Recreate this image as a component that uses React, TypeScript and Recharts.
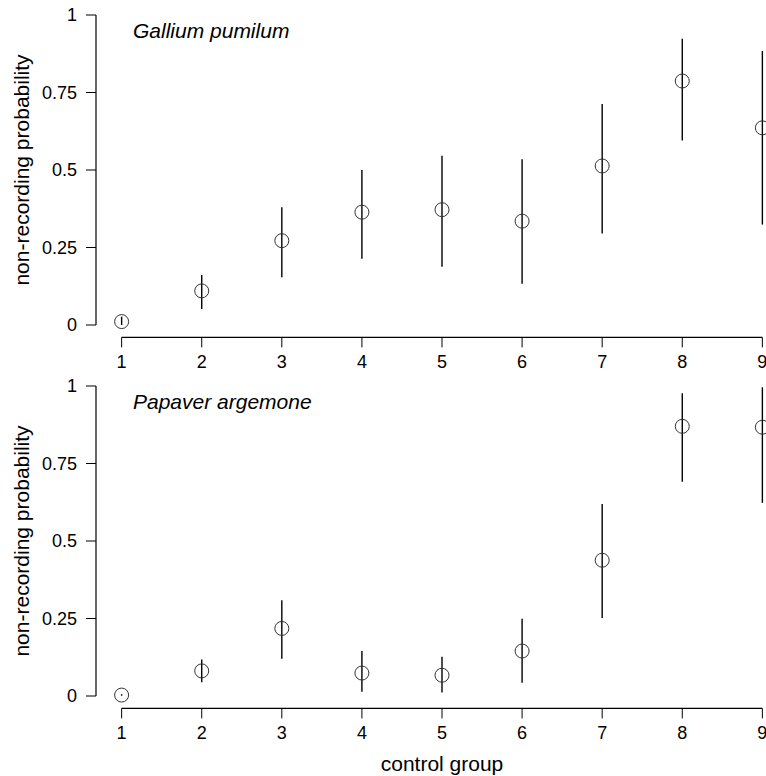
import React from "react";
import {
  ScatterChart,
  Scatter,
  XAxis,
  YAxis,
  ErrorBar,
  ReferenceLine,
} from "recharts";

// ---- data ----
const groups = [1, 2, 3, 4, 5, 6, 7, 8, 9];
const yTicks = [0, 0.25, 0.5, 0.75, 1];

const galliumP = [0.011, 0.11, 0.272, 0.364, 0.372, 0.335, 0.513, 0.787, 0.636];
const galliumLo = [0.0, 0.052, 0.154, 0.214, 0.188, 0.133, 0.295, 0.595, 0.324];
const galliumHi = [0.027, 0.161, 0.38, 0.5, 0.546, 0.535, 0.713, 0.923, 0.884];

const papaverP = [0.003, 0.081, 0.218, 0.074, 0.067, 0.145, 0.438, 0.87, 0.867];
const papaverLo = [0.001, 0.044, 0.12, 0.014, 0.011, 0.043, 0.252, 0.691, 0.623];
const papaverHi = [0.006, 0.118, 0.309, 0.145, 0.127, 0.249, 0.619, 0.977, 0.996];

const buildData = (p: number[], lo: number[], hi: number[]) =>
  groups.map((x, i) => ({ x, y: p[i], err: [p[i] - lo[i], hi[i] - p[i]] }));

const galliumData = buildData(galliumP, galliumLo, galliumHi);
const papaverData = buildData(papaverP, papaverLo, papaverHi);

// ---- styles ----
const FONT = "'Liberation Sans', Arial, Helvetica, sans-serif";
const X_PAD = 0.32;
const Y_PAD = 0.04;
const X_MIN = groups[0] - X_PAD;
const X_MAX = groups[groups.length - 1] + X_PAD;
const Y_MIN = 0 - Y_PAD;
const Y_MAX = 1 + Y_PAD;

const Circle = (props: any) => {
  const { cx, cy } = props;
  if (cx == null || cy == null) return null;
  return <circle cx={cx} cy={cy} r={7} fill="none" stroke="#333" strokeWidth={1} />;
};

type PanelProps = {
  data: { x: number; y: number; err: number[] }[];
  title: string;
  height: number;
  xAxisHeight: number;
  marginBottom: number;
  showXLabel: boolean;
  titleY: number;
};

function Panel({ data, title, height, xAxisHeight, marginBottom, showXLabel, titleY }: PanelProps) {
  return (
    <ScatterChart
      width={800}
      height={height}
      margin={{ top: 2.6, right: 12, bottom: marginBottom, left: 0 }}
    >
      <XAxis
        type="number"
        dataKey="x"
        domain={[X_MIN, X_MAX]}
        ticks={groups}
        allowDataOverflow
        axisLine={false}
        tickLine={{ stroke: "#000" }}
        tickSize={10}
        tickMargin={8}
        height={xAxisHeight}
        tick={{ fill: "#000", fontSize: 18, fontFamily: FONT }}
        label={
          showXLabel
            ? {
                value: "control group",
                position: "insideBottom",
                offset: -3,
                fill: "#000",
                fontSize: 21,
                fontFamily: FONT,
              }
            : undefined
        }
      />
      <YAxis
        type="number"
        dataKey="y"
        domain={[Y_MIN, Y_MAX]}
        ticks={yTicks}
        allowDataOverflow
        axisLine={false}
        tickLine={{ stroke: "#000" }}
        tickSize={10}
        tickMargin={9}
        width={96}
        tick={{ fill: "#000", fontSize: 18, fontFamily: FONT }}
        label={{
          value: "non-recording probability",
          angle: -90,
          position: "insideLeft",
          offset: 22,
          fill: "#000",
          fontSize: 21,
          fontFamily: FONT,
          style: { textAnchor: "middle" },
        }}
      />
      <ReferenceLine
        segment={[
          { x: groups[0], y: Y_MIN },
          { x: groups[groups.length - 1], y: Y_MIN },
        ]}
        stroke="#000"
        strokeWidth={1.2}
        ifOverflow="visible"
      />
      <ReferenceLine
        segment={[
          { x: X_MIN, y: yTicks[0] },
          { x: X_MIN, y: yTicks[yTicks.length - 1] },
        ]}
        stroke="#000"
        strokeWidth={1.2}
        ifOverflow="visible"
      />
      <Scatter data={data} dataKey="y" shape={<Circle />} isAnimationActive={false}>
        <ErrorBar
          dataKey="err"
          direction="y"
          width={0}
          stroke="#000"
          strokeWidth={1.4}
          isAnimationActive={false}
        />
      </Scatter>
      <text
        x={133}
        y={titleY}
        fontFamily={FONT}
        fontStyle="italic"
        fontSize={21}
        fill="#000"
      >
        {title}
      </text>
    </ScatterChart>
  );
}

export default function App() {
  return (
    <div
      style={{
        position: "absolute",
        left: 0,
        top: 0,
        width: 766,
        height: 776,
        overflow: "hidden",
        background: "#fff",
      }}
    >
      <div style={{ position: "absolute", left: 0, top: 0 }}>
        <Panel
          data={galliumData}
          title="Gallium pumilum"
          height={371}
          xAxisHeight={30}
          marginBottom={3.6}
          showXLabel={false}
          titleY={38}
        />
      </div>
      <div style={{ position: "absolute", left: 0, top: 371 }}>
        <Panel
          data={papaverData}
          title="Papaver argemone"
          height={405}
          xAxisHeight={60}
          marginBottom={7.6}
          showXLabel={true}
          titleY={38}
        />
      </div>
    </div>
  );
}
